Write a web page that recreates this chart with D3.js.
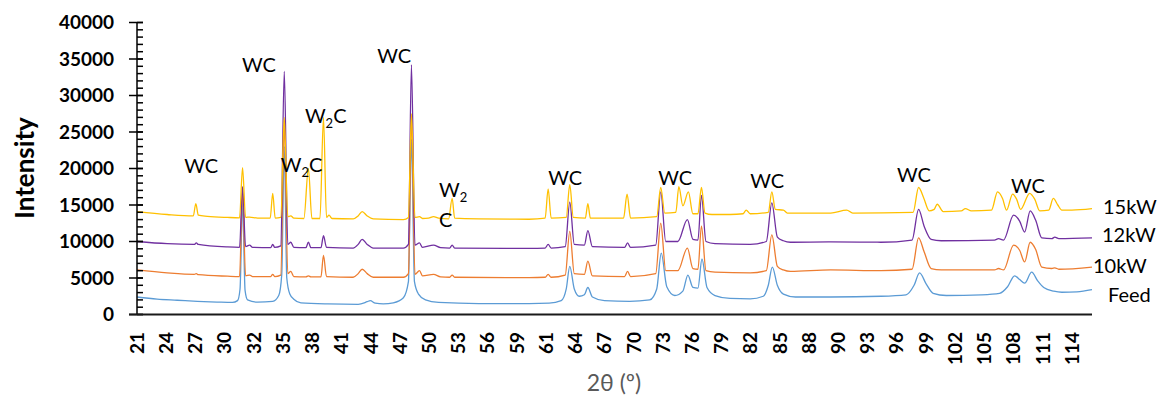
<!DOCTYPE html>
<html>
<head>
<meta charset="utf-8">
<script src="https://cdn.jsdelivr.net/npm/d3@7"></script>
<style>
  html, body { margin: 0; padding: 0; background: #fff; }
  svg { display: block; font-family: Lato, "Open Sans", sans-serif; }
</style>
</head>
<body>
<svg id="chart" width="1162" height="396"></svg>
<script>
// Data: [2θ, intensity]
const feed = [[21,2400],[23,2100],[25,1950],[27,1800],[29,1700],[30.5,1650],[31.0,1900],[31.25,3500],[31.5,15500],[31.75,3300],[32.0,2000],[33,1700],[34.5,1800],[35.1,2600],[35.4,5500],[35.65,23000],[35.9,5000],[36.2,2800],[36.6,2100],[37.3,1600],[40,1450],[43,1400],[43.9,1750],[44.2,1900],[44.7,1550],[45.5,1450],[46.5,1600],[47.5,2300],[48.0,4500],[48.3,24000],[48.6,4500],[49.0,2800],[49.7,2000],[51,1650],[55,1500],[60,1500],[62,1550],[63.2,1900],[63.7,3500],[64.05,6600],[64.5,3500],[65.0,2500],[65.5,2700],[65.85,3700],[66.3,2400],[67.5,1900],[70,1800],[72.0,2000],[72.7,3500],[73.15,8400],[73.7,3800],[74.5,2600],[75.3,3200],[75.8,5400],[76.3,3700],[76.8,3600],[77.2,7600],[77.7,3700],[78.5,2600],[80,2200],[82,2150],[83.3,2500],[83.8,4000],[84.2,6500],[84.7,4000],[85.3,2800],[86.5,2400],[90,2400],[95,2500],[97.5,2700],[98.3,4000],[98.85,5700],[99.5,4200],[100.2,2900],[101.5,2600],[105,2700],[106.8,2900],[107.6,3800],[108.3,5300],[108.8,4800],[109.3,4300],[110.0,5800],[110.6,4600],[111.2,3700],[112.2,3200],[113,3050],[114.5,3100],[116,3400]];

const kw10 = [[21,6100],[24,5700],[26.7,5500],[26.9,5600],[27.1,5450],[30,5250],[31.2,5200],[31.5,17000],[31.8,5300],[32.2,5400],[32.5,5200],[34.3,5200],[34.5,5500],[34.7,5200],[35.3,5400],[35.65,26000],[36.0,5600],[36.3,5900],[36.6,5200],[37.8,5150],[38.05,5300],[38.3,5150],[39.3,5150],[39.55,8100],[39.85,5200],[42.5,5100],[43.0,5600],[43.4,6200],[43.9,5600],[44.5,5100],[47.5,5100],[48.0,5600],[48.3,27000],[48.65,5500],[49.1,6000],[49.4,5300],[50.5,5500],[51.2,5150],[52.1,5100],[52.35,5400],[52.6,5100],[60,5050],[61.6,5100],[61.9,5500],[62.2,5100],[63.6,5400],[64.05,11400],[64.5,5600],[65.5,5500],[65.85,7300],[66.3,5300],[69.5,5200],[69.8,5900],[70.1,5200],[72.6,5600],[73.1,12500],[73.6,6000],[74.8,6000],[75.75,9100],[76.3,6300],[76.8,6200],[77.15,12100],[77.6,6000],[78.5,5800],[82,5700],[83.6,6000],[84.15,10900],[84.7,6600],[85.3,6100],[86,5900],[90,6100],[95,6000],[98.1,6200],[98.75,10500],[99.3,8600],[100,6300],[101,6100],[106.3,6100],[106.7,6300],[107.2,6100],[108.2,9500],[108.8,8800],[109.3,7200],[109.85,9900],[110.4,8900],[111.0,6500],[112.0,6300],[112.3,6400],[112.7,6200],[116,6500]];

const kw12 = [[21,10000],[24,9700],[26.7,9600],[26.9,9800],[27.1,9600],[30,9250],[31.2,9200],[31.5,17500],[31.8,9300],[32.2,9500],[32.5,9200],[34.3,9150],[34.5,9600],[34.7,9200],[35.3,9400],[35.65,33300],[36.0,9600],[36.3,9900],[36.6,9200],[37.8,9150],[38.05,9900],[38.3,9150],[39.3,9150],[39.55,10800],[39.85,9200],[42.5,9100],[43.0,9600],[43.4,10300],[43.9,9600],[44.5,9100],[47.5,9100],[48.0,9600],[48.3,34200],[48.65,9500],[49.1,9800],[49.4,9200],[50.5,9500],[51.2,9150],[52.1,9100],[52.35,9500],[52.6,9100],[60,9050],[61.6,9100],[61.9,9600],[62.2,9100],[63.6,9300],[64.05,15400],[64.5,9600],[65.5,9500],[65.85,11500],[66.3,9300],[69.5,9200],[69.8,9800],[70.1,9200],[72.6,9500],[73.1,16800],[73.6,10000],[74.8,10000],[75.75,13000],[76.3,10300],[76.8,10200],[77.15,16300],[77.6,10000],[78.5,9700],[82,9600],[83.6,10000],[84.15,15300],[84.7,10600],[85.3,10100],[86,9900],[90,9950],[95,9900],[98.1,10200],[98.75,14400],[99.3,12100],[100,10300],[101,10100],[106.3,10200],[106.7,10400],[107.2,10200],[108.2,13600],[108.8,12800],[109.3,11300],[109.85,14200],[110.4,12900],[111.0,10500],[112.0,10400],[112.3,10600],[112.7,10400],[116,10500]];

const kw15 = [[21,14100],[24,13700],[26.6,13500],[26.85,15200],[27.1,13600],[28,13450],[30,13300],[31.2,13250],[31.5,20100],[31.8,13300],[32.2,13350],[33,13200],[34.25,13200],[34.5,16600],[34.75,13200],[35.3,13300],[35.65,27000],[36.0,13400],[36.3,13500],[36.6,13200],[37.6,13150],[38.05,20000],[38.4,13150],[39.2,13150],[39.55,27000],[39.85,13300],[40.1,13600],[40.4,13150],[42.5,13100],[43.0,13500],[43.4,14100],[43.9,13500],[44.5,13100],[47.5,13000],[48.0,13300],[48.3,27500],[48.65,13300],[49.1,13400],[49.4,13150],[50.0,13200],[50.5,13400],[51.0,13200],[52.0,13100],[52.35,15900],[52.6,13200],[55,13100],[60,13050],[61.6,13200],[61.9,17200],[62.2,13200],[63.7,13300],[64.05,17800],[64.4,13300],[65.6,13200],[65.85,15200],[66.1,13200],[69.4,13200],[69.75,16500],[70.1,13200],[72.7,13400],[73.1,17400],[73.5,13900],[74.6,14000],[74.9,17500],[75.3,14900],[75.85,16800],[76.3,13800],[76.8,13800],[77.15,17400],[77.5,13900],[78.2,13700],[80,13700],[81.3,13800],[81.6,14300],[82.0,13800],[83.8,14000],[84.15,16800],[84.5,14400],[85.3,14300],[85.7,13900],[90,13900],[91.6,14300],[92.2,13900],[98.2,14000],[98.75,17400],[99.25,16000],[99.8,14200],[100.3,14400],[100.6,15100],[101.2,14100],[103.0,14200],[103.4,14500],[104,14200],[106.0,14300],[106.6,16800],[107.1,15900],[107.5,14300],[108.1,16500],[108.5,15800],[108.9,14400],[109.8,16600],[110.3,15800],[110.8,14200],[111.7,14300],[112.15,15900],[112.6,15000],[113.0,14300],[114,14300],[116,14500]];

const seriesNames = ["Feed", "10kW", "12kW", "15kW"];
const seriesValues = [feed, kw10, kw12, kw15];
const seriesColors = ["#5B9BD5", "#ED7D31", "#7030A0", "#FFC000"];

const xTickLabels = [21,24,27,30,32,35,38,41,44,47,50,53,56,59,61,64,67,70,73,76,79,82,85,88,90,93,96,99,102,105,108,111,114];
const yTicks = [0,5000,10000,15000,20000,25000,30000,35000,40000];

// Phase labels: text, subscript, trailing text, anchor [2θ, intensity]
const phaseLabels = [
  { a: "WC", sub: "", b: "", at: [25.7, 19400] },
  { a: "WC", sub: "", b: "", at: [31.45, 33200] },
  { a: "W", sub: "2", b: "C", at: [37.7, 26200] },
  { a: "W", sub: "2", b: "C", at: [35.3, 19500] },
  { a: "WC", sub: "", b: "", at: [44.9, 34500] },
  { a: "W", sub: "2", b: "", at: [51.05, 16100] },
  { a: "C", sub: "", b: "", at: [51.05, 12000] },
  { a: "WC", sub: "", b: "", at: [61.9, 17700] },
  { a: "WC", sub: "", b: "", at: [72.85, 17700] },
  { a: "WC", sub: "", b: "", at: [82.0, 17300] },
  { a: "WC", sub: "", b: "", at: [96.6, 18100] },
  { a: "WC", sub: "", b: "", at: [107.95, 16600] }
];

// Series labels at right edge: intensity of label baseline
const seriesLabelY = [1700, 5700, 9900, 13800];
const seriesLabelDx = [16, 1, 10, 11];

const svg = d3.select("#chart");
const margin = { left: 137, right: 1092, top: 22.5, bottom: 314.5 };

const x = d3.scaleLinear().domain([21, 116]).range([margin.left, margin.right]);
const y = d3.scaleLinear().domain([0, 40000]).range([margin.bottom, margin.top]);

// Lines
const line = d3.line()
  .x((d) => x(d[0]))
  .y((d) => y(d[1]))
  .curve(d3.curveMonotoneX);

svg.append("g")
  .selectAll("path")
  .data(seriesValues)
  .enter()
  .append("path")
  .attr("d", line)
  .attr("fill", "none")
  .attr("stroke", (d, i) => seriesColors[i])
  .attr("stroke-width", 1.3)
  .attr("stroke-linejoin", "round");

// Y axis with minor ticks every 1000
const yAxis = svg.append("g");
yAxis.append("line")
  .attr("x1", margin.left).attr("x2", margin.left)
  .attr("y1", y(40000)).attr("y2", y(0))
  .attr("stroke", "#000").attr("stroke-width", 1.5);

yAxis.selectAll(".minor")
  .data(d3.range(0, 40001, 1000))
  .enter()
  .append("line")
  .attr("x1", margin.left).attr("x2", margin.left + 6)
  .attr("y1", (d) => y(d)).attr("y2", (d) => y(d))
  .attr("stroke", "#000").attr("stroke-width", 1.5);

yAxis.selectAll(".major")
  .data(yTicks)
  .enter()
  .append("line")
  .attr("x1", margin.left - 8).attr("x2", margin.left + 6)
  .attr("y1", (d) => y(d)).attr("y2", (d) => y(d))
  .attr("stroke", "#000").attr("stroke-width", 1.5);

yAxis.selectAll("text")
  .data(yTicks)
  .enter()
  .append("text")
  .attr("x", 114)
  .attr("y", (d) => y(d))
  .attr("dy", "0.36em")
  .attr("text-anchor", "end")
  .style("font-size", "19px")
  .style("font-weight", "bold")
  .text((d) => d);

// X axis (category style, evenly spaced labels)
const xStep = (114 - 21) / (xTickLabels.length - 1);
svg.append("line")
  .attr("x1", margin.left - 8).attr("x2", margin.right)
  .attr("y1", y(0)).attr("y2", y(0))
  .attr("stroke", "#1a1a1a").attr("stroke-width", 2);

svg.append("g")
  .selectAll("text")
  .data(xTickLabels)
  .enter()
  .append("text")
  .attr("transform", (d, i) => `translate(${x(21 + i * xStep)},332) rotate(-90)`)
  .attr("dy", "0.36em")
  .attr("text-anchor", "end")
  .style("font-size", "19px")
  .style("font-weight", "bold")
  .text((d) => d);

// Axis titles
svg.append("text")
  .attr("transform", `translate(34,168) rotate(-90)`)
  .attr("text-anchor", "middle")
  .style("font-size", "26px")
  .style("font-weight", "bold")
  .text("Intensity");

svg.append("text")
  .attr("x", 614)
  .attr("y", 391)
  .attr("text-anchor", "middle")
  .style("font-size", "23px")
  .style("fill", "#595959")
  .text("2θ (º)");

// Phase annotations
const ann = svg.append("g").style("font-size", "20px").style("fill", "#000");
phaseLabels.forEach((p) => {
  const t = ann.append("text").attr("x", x(p.at[0])).attr("y", y(p.at[1]));
  t.append("tspan").text(p.a);
  if (p.sub) t.append("tspan").attr("dy", 5).style("font-size", "13px").text(p.sub);
  if (p.b) t.append("tspan").attr("dy", -5).text(p.b);
});

// Series labels
svg.append("g")
  .selectAll("text")
  .data(seriesNames)
  .enter()
  .append("text")
  .attr("x", (d, i) => margin.right + seriesLabelDx[i])
  .attr("y", (d, i) => y(seriesLabelY[i]))
  .style("font-size", "20px")
  .text((d) => d);
</script>
</body>
</html>
